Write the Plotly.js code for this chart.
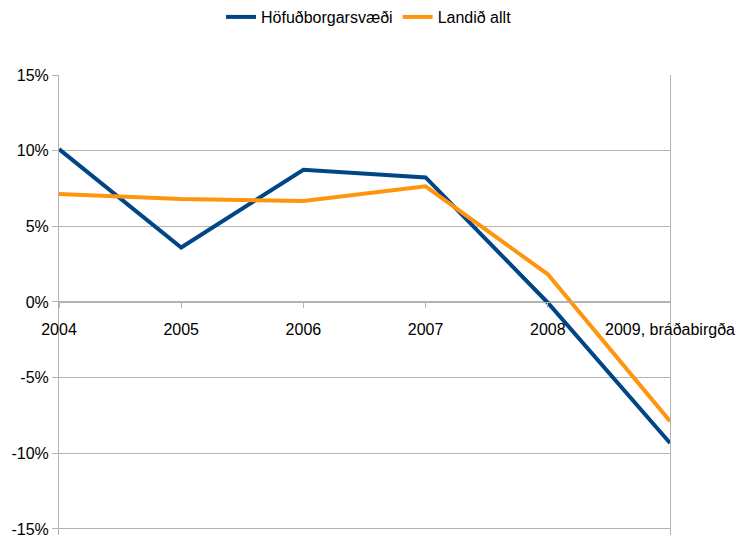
<!DOCTYPE html>
<html>
<head>
<meta charset="utf-8">
<script src="https://cdn.plot.ly/plotly-3.0.1.min.js"></script>
<style>html,body{margin:0;padding:0;background:#fff;}#chart{width:738px;height:535px;}</style>
</head>
<body>
<div id="chart"></div>
<script>
const categories = ["2004", "2005", "2006", "2007", "2008", "2009, bráðabirgða"];
const hofudborgarsvaedi = [10.1, 3.6, 8.74, 8.23, -0.05, -9.32];
const landidAllt = [7.13, 6.8, 6.67, 7.64, 1.83, -7.88];
const yTickVals = [-15, -10, -5, 0, 5, 10, 15];
const yTickText = ["-15%", "-10%", "-5%", "0%", "5%", "10%", "15%"];

const yMin = -15.4, yMax = 15;

const traces = [
  {x: categories, y: hofudborgarsvaedi, name: "Höfuðborgarsvæði", type: "scatter", mode: "lines",
   line: {color: "#004586", width: 4}},
  {x: categories, y: landidAllt, name: "Landið allt", type: "scatter", mode: "lines",
   line: {color: "#ff950e", width: 4}}
];

const layout = {
  width: 738, height: 535,
  margin: {l: 59, r: 68, t: 75, b: 0, pad: 0},
  paper_bgcolor: "#fff", plot_bgcolor: "#fff",
  font: {family: "Liberation Sans, Arial, sans-serif", size: 16, color: "#000"},
  showlegend: true,
  legend: {orientation: "h", x: 0.5, xref: "container", xanchor: "center", y: 1, yref: "container", yanchor: "top",
           font: {size: 16, color: "#000"}, bgcolor: "rgba(0,0,0,0)", tracegroupgap: 0, itemwidth: 30},
  xaxis: {type: "category", range: [0, 5], anchor: "free", position: (0 - yMin) / (yMax - yMin),
          showgrid: false, zeroline: false, showline: true, linecolor: "#b3b3b3", linewidth: 1,
          ticks: "outside", ticklen: 5, tickcolor: "#b3b3b3", ticklabelstandoff: 8,
          tickfont: {size: 16, color: "#000"}},
  yaxis: {range: [yMin, yMax], tickvals: yTickVals, ticktext: yTickText, ticklabeloverflow: "allow",
          showgrid: true, gridcolor: "#b3b3b3", gridwidth: 1, zeroline: false,
          showline: true, mirror: true, linecolor: "#b3b3b3", linewidth: 1,
          ticks: "outside", ticklen: 6, tickcolor: "#b3b3b3",
          tickfont: {size: 16, color: "#000"}}
};

Plotly.newPlot("chart", traces, layout, {displayModeBar: false, staticPlot: true});
</script>
</body>
</html>
